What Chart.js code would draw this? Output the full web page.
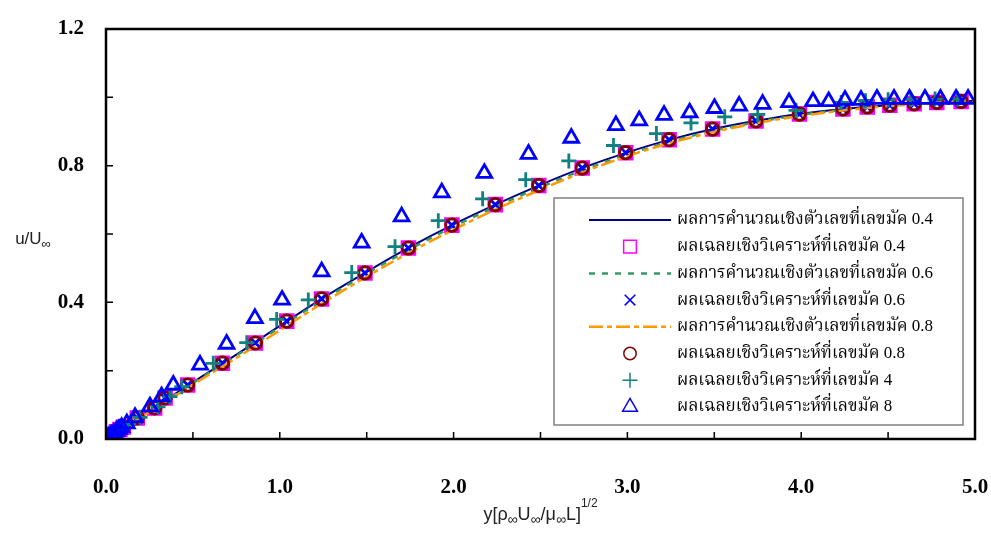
<!DOCTYPE html>
<html>
<head>
<meta charset="utf-8">
<script src="https://cdn.jsdelivr.net/npm/chart.js@4.4.1/dist/chart.umd.min.js"></script>
<style>
  html, body { margin: 0; padding: 0; background: #fff; }
  #wrap { width: 991px; height: 549px; }
</style>
</head>
<body>
<div id="wrap"><canvas id="profileChart"></canvas></div>
<script>
// values: eta = y[rho U / mu L]^1/2, u/U
const etaGrid = [0, 0.25, 0.5, 0.75, 1.0, 1.25, 1.5, 1.75, 2.0, 2.25, 2.5, 2.75, 3.0, 3.25, 3.5, 3.75, 4.0, 4.25, 4.5, 4.75, 5.0];
const numU04 = [0, 0.083, 0.166, 0.247, 0.331, 0.413, 0.489, 0.562, 0.628, 0.688, 0.744, 0.795, 0.839, 0.877, 0.908, 0.932, 0.952, 0.966, 0.977, 0.984, 0.99];
const numU06 = [0, 0.082, 0.164, 0.244, 0.327, 0.408, 0.484, 0.556, 0.622, 0.682, 0.737, 0.788, 0.833, 0.871, 0.903, 0.928, 0.949, 0.964, 0.976, 0.984, 0.99];
const numU08 = [0, 0.079, 0.159, 0.237, 0.318, 0.399, 0.475, 0.547, 0.613, 0.674, 0.73, 0.782, 0.828, 0.867, 0.899, 0.925, 0.946, 0.962, 0.974, 0.983, 0.99];

// analytic points, Mach 0.4 / 0.6 / 0.8 lie on top of each other
const etaExact = [0, 0.02, 0.04, 0.06, 0.08, 0.1, 0.18, 0.28, 0.34, 0.47, 0.67, 0.86, 1.04, 1.24, 1.49, 1.74, 1.99, 2.24, 2.49, 2.74, 2.99, 3.24, 3.49, 3.74, 3.99, 4.24, 4.38, 4.51, 4.65, 4.78, 4.92];
const exactU04 = [0, 0.007, 0.014, 0.021, 0.028, 0.035, 0.0615, 0.091, 0.12, 0.158, 0.222, 0.281, 0.345, 0.41, 0.486, 0.559, 0.626, 0.686, 0.742, 0.793, 0.838, 0.876, 0.907, 0.931, 0.951, 0.966, 0.972, 0.977, 0.981, 0.985, 0.988];
const exactU06 = exactU04;
const exactU08 = exactU04;

// Mach 4
const etaM4 = [0, 0.02, 0.04, 0.06, 0.08, 0.1, 0.13, 0.196, 0.299, 0.368, 0.436, 0.617, 0.81, 0.982, 1.164, 1.414, 1.663, 1.912, 2.167, 2.415, 2.663, 2.92, 3.167, 3.366, 3.56, 3.75, 3.97, 4.23, 4.37, 4.5, 4.63, 4.77, 4.9];
const uM4 = [0, 0.0065, 0.013, 0.0195, 0.026, 0.0325, 0.042, 0.0635, 0.094, 0.124, 0.153, 0.2215, 0.282, 0.35, 0.407, 0.487, 0.563, 0.639, 0.703, 0.759, 0.814, 0.859, 0.894, 0.925, 0.943, 0.95, 0.962, 0.985, 0.99, 0.993, 0.994, 0.995, 0.995];

// Mach 8
const etaM8 = [0, 0.015, 0.03, 0.045, 0.06, 0.075, 0.09, 0.12, 0.167, 0.253, 0.32, 0.387, 0.541, 0.694, 0.857, 1.013, 1.241, 1.471, 1.701, 1.932, 2.177, 2.431, 2.677, 2.934, 3.068, 3.211, 3.358, 3.501, 3.643, 3.778, 3.93, 4.068, 4.158, 4.252, 4.344, 4.436, 4.534, 4.623, 4.712, 4.801, 4.891, 4.96];
const uM8 = [0, 0.006, 0.0115, 0.017, 0.023, 0.0285, 0.034, 0.045, 0.0635, 0.0945, 0.124, 0.158, 0.217, 0.278, 0.353, 0.407, 0.49, 0.574, 0.651, 0.721, 0.778, 0.834, 0.881, 0.918, 0.932, 0.948, 0.955, 0.968, 0.975, 0.98, 0.985, 0.988, 0.988, 0.992, 0.992, 0.995, 0.995, 0.995, 0.995, 0.995, 0.995, 0.995];

const seriesLabels = [
    "ผลการคำนวณเชิงตัวเลขที่เลขมัค 0.4",
    "ผลเฉลยเชิงวิเคราะห์ที่เลขมัค 0.4",
    "ผลการคำนวณเชิงตัวเลขที่เลขมัค 0.6",
    "ผลเฉลยเชิงวิเคราะห์ที่เลขมัค 0.6",
    "ผลการคำนวณเชิงตัวเลขที่เลขมัค 0.8",
    "ผลเฉลยเชิงวิเคราะห์ที่เลขมัค 0.8",
    "ผลเฉลยเชิงวิเคราะห์ที่เลขมัค 4",
    "ผลเฉลยเชิงวิเคราะห์ที่เลขมัค 8"
];
const xTickLabels = ["0.0", "1.0", "2.0", "3.0", "4.0", "5.0"];
const yTickLabels = ["0.0", "0.4", "0.8", "1.2"];

const tickFont = { family: "'Liberation Serif', 'DejaVu Serif', serif", size: 21, weight: "bold" };
const legendFont = "17px 'Liberation Serif', 'Noto Serif Thai', 'Noto Sans Thai', 'DejaVu Serif', serif";

const pts = (xs, ys) => xs.map((x, i) => ({ x: x, y: ys[i] }));

function lineSet(label, xs, ys, color, dash, width, order) {
    return {
        label: label, data: pts(xs, ys), showLine: true, borderColor: color, borderWidth: width,
        borderDash: dash, pointRadius: 0, cubicInterpolationMode: "monotone", order: order
    };
}
function markSet(label, xs, ys, color, style, radius, order) {
    return {
        label: label, data: pts(xs, ys), showLine: false, borderColor: color, backgroundColor: "rgba(0,0,0,0)",
        pointStyle: style, pointRadius: radius, pointBorderWidth: 2.8, order: order
    };
}

const datasets = [
    lineSet(seriesLabels[0], etaGrid, numU04, "#000080", [], 2, 8),
    markSet(seriesLabels[1], etaExact, exactU04, "#ff00ff", "rect", 9, 7),
    lineSet(seriesLabels[2], etaGrid, numU06, "#339966", [6, 7], 2.5, 6),
    markSet(seriesLabels[3], etaExact, exactU06, "#0000ff", "crossRot", 7.5, 5),
    lineSet(seriesLabels[4], etaGrid, numU08, "#ff9900", [14, 4, 5, 4], 2.5, 4),
    markSet(seriesLabels[5], etaExact, exactU08, "#800000", "circle", 6.2, 3),
    markSet(seriesLabels[6], etaM4, uM4, "#108080", "cross", 7.5, 2),
    markSet(seriesLabels[7], etaM8, uM8, "#0000ff", "triangle", 8.5, 1)
];

// frame, inward ticks, axis titles and legend box
const decorations = {
    id: "decorations",
    afterDatasetsDraw(chart) {
        const ctx = chart.ctx;
        const a = chart.chartArea;
        const xs = chart.scales.x, ys = chart.scales.y;
        ctx.save();
        ctx.strokeStyle = "#000";
        ctx.lineWidth = 1.5;
        ctx.beginPath();
        xs.ticks.forEach(t => {
            const px = xs.getPixelForValue(t.value);
            ctx.moveTo(px, a.bottom);
            ctx.lineTo(px, a.bottom - 7);
        });
        ys.ticks.forEach(t => {
            const py = ys.getPixelForValue(t.value);
            ctx.moveTo(a.left, py);
            ctx.lineTo(a.left + 7, py);
        });
        ctx.stroke();
        ctx.lineWidth = 2.5;
        ctx.strokeRect(a.left, a.top, a.right - a.left, a.bottom - a.top);

        // legend
        const bx = a.right - 421, by = a.top + 169, bw = 409, bh = 227;
        ctx.fillStyle = "#fff";
        ctx.fillRect(bx, by, bw, bh);
        ctx.strokeStyle = "#808080";
        ctx.lineWidth = 1.5;
        ctx.strokeRect(bx, by, bw, bh);
        chart.data.datasets.forEach((ds, i) => {
            const cy = by + 22 + i * 26.7;
            ctx.save();
            ctx.strokeStyle = ds.borderColor;
            if (ds.showLine) {
                ctx.lineWidth = ds.borderWidth;
                ctx.setLineDash(ds.borderDash);
                ctx.beginPath();
                ctx.moveTo(bx + 35, cy);
                ctx.lineTo(bx + 117, cy);
                ctx.stroke();
            } else {
                ctx.fillStyle = "rgba(0,0,0,0)";
                Chart.helpers.drawPoint(ctx, { pointStyle: ds.pointStyle, radius: ds.pointRadius, rotation: 0, borderWidth: ds.pointBorderWidth }, bx + 76, cy);
            }
            ctx.restore();
            ctx.fillStyle = "#000";
            ctx.font = legendFont;
            ctx.textAlign = "left";
            ctx.textBaseline = "middle";
            ctx.fillText(ds.label, bx + 123, cy);
        });

        // axis titles
        ctx.fillStyle = "#222";
        ctx.textBaseline = "alphabetic";
        drawRich(ctx, [
            { t: "u/U", s: 17, dy: 0 }, { t: "∞", s: 13, dy: 4 }
        ], a.left - 73, (a.top + a.bottom) / 2 + 10);
        drawRich(ctx, [
            { t: "y[ρ", s: 18, dy: 0 }, { t: "∞", s: 14, dy: 4 },
            { t: "U", s: 18, dy: 0 }, { t: "∞", s: 14, dy: 4 },
            { t: "/μ", s: 18, dy: 0 }, { t: "∞", s: 14, dy: 4 },
            { t: "L]", s: 18, dy: 0 }, { t: "1/2", s: 12, dy: -13 }
        ], (a.left + a.right) / 2, a.bottom + 81);
        ctx.restore();
    }
};

function drawRich(ctx, parts, cx, baseY) {
    let total = 0;
    parts.forEach(p => {
        ctx.font = p.s + "px 'Liberation Sans', Arial, sans-serif";
        p.w = ctx.measureText(p.t).width;
        total += p.w;
    });
    let x = cx - total / 2;
    ctx.textAlign = "left";
    parts.forEach(p => {
        ctx.font = p.s + "px 'Liberation Sans', Arial, sans-serif";
        ctx.fillText(p.t, x, baseY + p.dy);
        x += p.w;
    });
}

const near = (v, step) => Math.abs(v / step - Math.round(v / step)) < 1e-6;

const ctx = document.getElementById("profileChart").getContext("2d");
new Chart(ctx, {
    type: "scatter",
    data: { datasets: datasets },
    options: {
        responsive: true,
        maintainAspectRatio: false,
        animation: false,
        layout: { padding: { top: 29, right: 16, left: 0, bottom: 0 } },
        plugins: { legend: { display: false }, tooltip: { enabled: false } },
        scales: {
            x: {
                type: "linear", min: 0, max: 5,
                grid: { display: false, drawTicks: false },
                border: { display: false },
                ticks: {
                    stepSize: 0.5, autoSkip: false, maxRotation: 0, padding: 36, color: "#000", font: tickFont,
                    callback: v => near(v, 1) ? xTickLabels[Math.round(v)] : ""
                },
                afterFit: s => { s.height = 110; s.paddingLeft = 0; s.paddingRight = 0; }
            },
            y: {
                type: "linear", min: 0, max: 1.2,
                grid: { display: false, drawTicks: false },
                border: { display: false },
                ticks: {
                    stepSize: 0.2, autoSkip: false, padding: 22, color: "#000", font: tickFont,
                    callback: v => near(v, 0.4) ? yTickLabels[Math.round(v / 0.4)] : ""
                },
                afterFit: s => { s.width = 106; s.paddingTop = 0; s.paddingBottom = 0; }
            }
        }
    },
    plugins: [decorations]
});
</script>
</body>
</html>
